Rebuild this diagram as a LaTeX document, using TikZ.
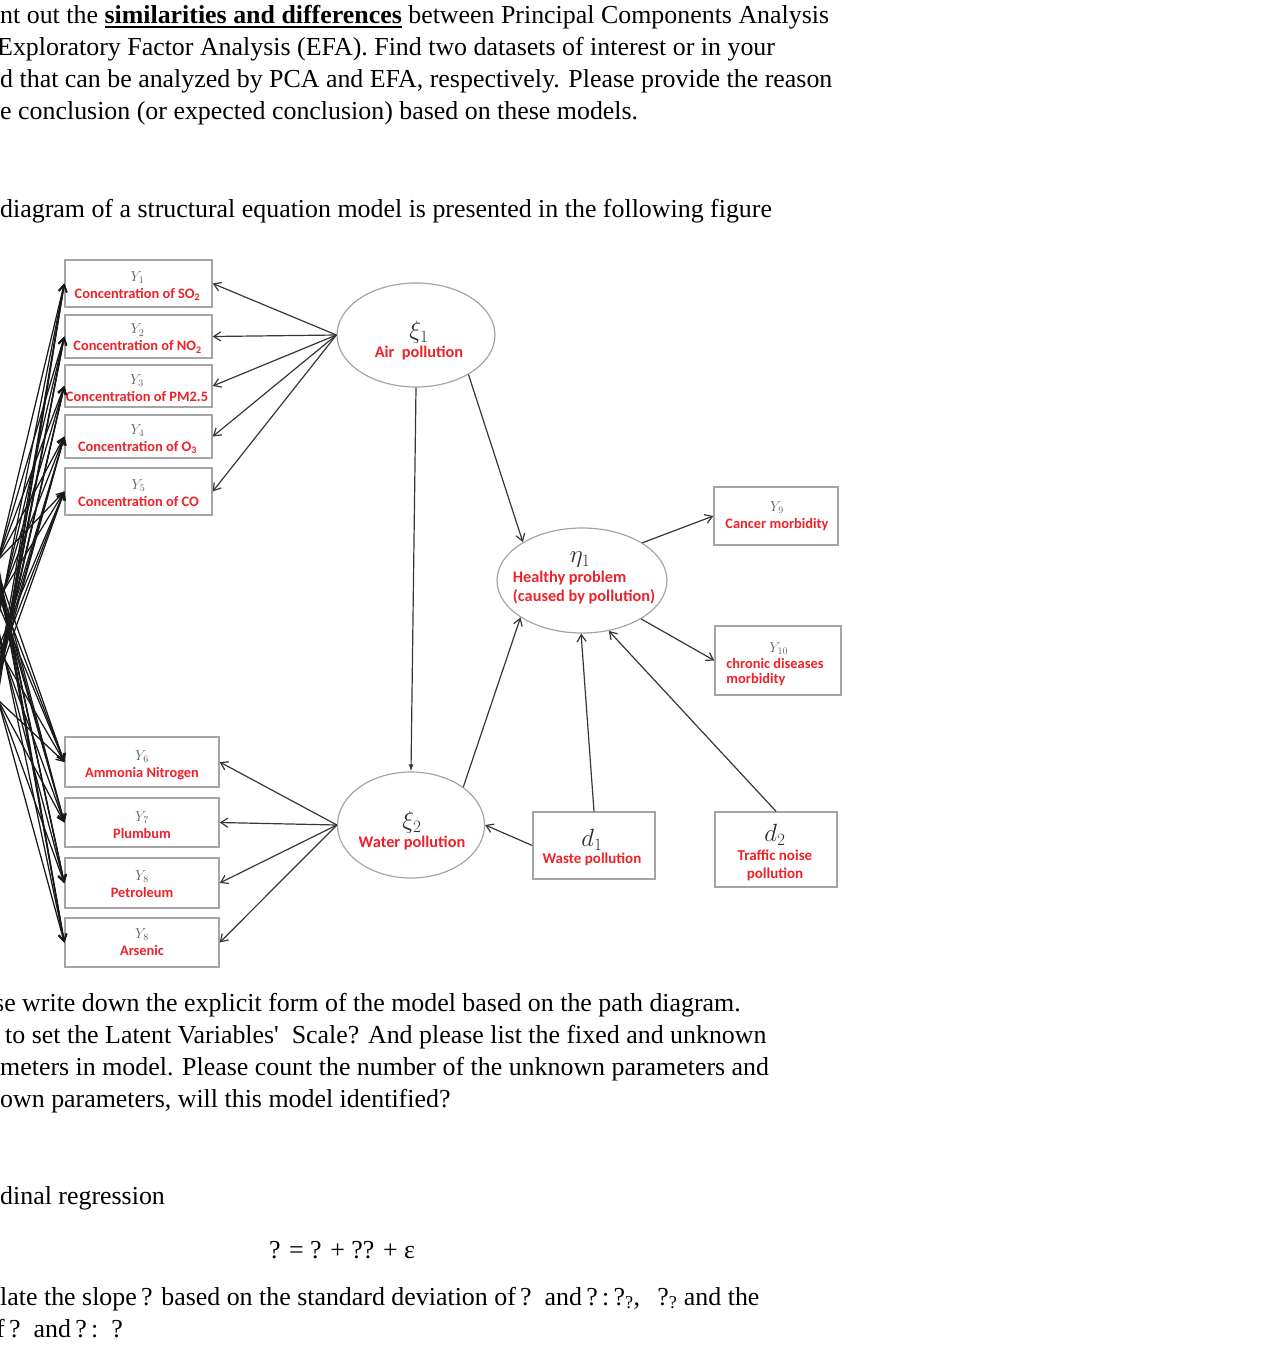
\documentclass[tikz,border=0pt]{standalone}
\usepackage{fontspec}
\setmainfont{Liberation Serif}
\newfontfamily\labfont{Carlito}
\usetikzlibrary{arrows.meta,shapes.geometric,calc}
\definecolor{labred}{RGB}{238,34,42}
\definecolor{edgec}{RGB}{55,55,55}
\definecolor{framec}{RGB}{165,165,165}
\definecolor{ygray}{RGB}{95,95,95}
\definecolor{greekc}{RGB}{45,45,45}
\newcommand\ulbold[1]{\setbox0\hbox{\textbf{#1}}\rlap{\raisebox{-4.5pt}{\rule{\wd0}{1.7pt}}}\box0\relax}
\newcommand\yl[1]{{\color{ygray}\fontsize{14.5}{14}\selectfont$#1$}}
\newcommand\gk[1]{{\color{greekc}\fontsize{23}{23}\selectfont$#1$}}
\begin{document}
\begin{tikzpicture}[x=1pt,y=-1pt,
  body/.style={font=\fontsize{25.9}{30}\selectfont,inner sep=0pt,anchor=base west},
  box/.style={draw=framec,line width=1.4pt,fill=white,inner sep=0pt,rectangle},
  lat/.style={draw=framec,line width=1.2pt,ellipse,inner sep=0pt},
  lab/.style={font=\labfont\bfseries\fontsize{14.4}{16}\selectfont,text=labred,align=center,inner sep=0pt},
  labbig/.style={font=\labfont\bfseries\fontsize{16.3}{19}\selectfont,text=labred,align=center,inner sep=0pt},
  arr/.style={draw=edgec,line width=1.2pt,-{Straight Barb[length=7pt,width=9pt]}},
  fan/.style={draw=black!90,line width=1.25pt,-{Straight Barb[length=7pt,width=8pt]}},
  fillarr/.style={draw=edgec,line width=1.2pt,-{Latex[length=7pt,width=5pt]}}
]
\useasboundingbox (0,0) rectangle (1280,1353);

% ---------- text above ----------
\node[body] (t1) at (0,23) {nt out the \ulbold{similarities and differences} between Principal Components Analysis};
\node[body] (t2) at (-3,55) {Exploratory Factor Analysis (EFA). Find two datasets of interest or in your};
\node[body] (t3) at (0,87) {d that can be analyzed by PCA and EFA, respectively. Please provide the reason};
\node[body] (t4) at (0,119) {e conclusion (or expected conclusion) based on these models.};
\node[body] (t5) at (0,217) {diagram of a structural equation model is presented in the following figure};

% ---------- boxes ----------
\node[box,minimum width=147,minimum height=47] (y1) at (138.5,283.5) {};
\node[box,minimum width=147,minimum height=43] (y2) at (138.5,336.5) {};
\node[box,minimum width=147,minimum height=42] (y3) at (138.5,386) {};
\node[box,minimum width=147,minimum height=43] (y4) at (138.5,436.5) {};
\node[box,minimum width=147,minimum height=47] (y5) at (138.5,491.5) {};
\node[box,minimum width=154,minimum height=50] (y6) at (142,762) {};
\node[box,minimum width=154,minimum height=49] (y7) at (142,822.5) {};
\node[box,minimum width=154,minimum height=50] (y8) at (142,883) {};
\node[box,minimum width=154,minimum height=49] (y9) at (142,942.5) {};
\node[box,minimum width=124,minimum height=58] (c9) at (776,516) {};
\node[box,minimum width=126,minimum height=69] (c10) at (778,660.5) {};
\node[box,minimum width=122,minimum height=67] (d1) at (594,845.5) {};
\node[box,minimum width=122,minimum height=75] (d2) at (776,849.5) {};

\node[lab] (y1t) at (137.5,286) {\yl{Y_1}\\[1pt]Concentration of SO\textsubscript{2}};
\node[lab] (y2t) at (137.5,338.5) {\yl{Y_2}\\[1pt]Concentration of NO\textsubscript{2}};
\node[lab] (y3t) at (137,388) {\yl{Y_3}\\[1pt]Concentration of PM2.5};
\node[lab] (y4t) at (137.5,439) {\yl{Y_4}\\[1pt]Concentration of O\textsubscript{3}};
\node[lab] (y5t) at (138.5,493) {\yl{Y_5}\\[1pt]Concentration of CO};
\node[lab] (y6t) at (142,765) {\yl{Y_6}\\[1pt]Ammonia Nitrogen};
\node[lab] (y7t) at (142,825) {\yl{Y_7}\\[1pt]Plumbum};
\node[lab] (y8t) at (142,884) {\yl{Y_8}\\[1pt]Petroleum};
\node[lab] (y9t) at (142,942) {\yl{Y_8}\\[1pt]Arsenic};
\node[lab] (c9t) at (777,516) {\yl{Y_9}\\[1pt]Cancer morbidity};
\node[lab,align=left] (c10t) at (775,664) {\hspace*{43pt}\yl{Y_{10}}\\[0pt]chronic diseases\\[-1pt]morbidity};
\node[labbig,font=\labfont\bfseries\fontsize{15}{17}\selectfont] (d1t) at (592,848) {\gk{d_1}\\[0pt]Waste pollution};
\node[labbig,font=\labfont\bfseries\fontsize{15}{18}\selectfont] (d2t) at (775,853) {\gk{d_2}\\[1pt]Traffic noise\\pollution};

% ---------- latent variables ----------
\node[lat,minimum width=158,minimum height=104] (xi1) at (416,335) {};
\node[lat,minimum width=147,minimum height=106] (xi2) at (411,825) {};
\node[lat,minimum width=170,minimum height=105] (eta1) at (582,580.5) {};
\node[labbig] (xi1t) at (419,341) {\gk{\xi_1}\\[0pt]Air\ \ pollution};
\node[labbig] (xi2t) at (412,831) {\gk{\xi_2}\\[0pt]Water pollution};
\node[labbig,align=left] (eta1t) at (584,578) {\hspace*{57pt}\gk{\eta_1}\\[1pt]Healthy problem\\(caused by pollution)};

% ---------- measurement arrows ----------
\foreach \b in {y1,y2,y3,y4,y5}{\draw[arr] (xi1.west) -- (\b.east);}
\foreach \b in {y6,y7,y8,y9}{\draw[arr] (xi2.west) -- (\b.east);}
\draw[arr] (eta1.32) -- (c9.west);
\draw[arr] (eta1.-33) -- (c10.west);

% ---------- structural arrows ----------
\draw[fillarr] (xi1.south) -- (xi2.north);
\draw[arr] (xi1.-37) -- (eta1.147);
\draw[arr] (xi2.36) -- (eta1.211);
\draw[arr] (d1.north) -- (eta1.-91);
\draw[arr] (d2.north) -- (eta1.-62);
\draw[arr] (d1.west) -- (xi2.east);

% ---------- error arrows from the left (cut off) ----------
\foreach \b in {y1,y2,y3,y4,y5}{
  \foreach \wx/\wy [count=\k] in {-2/560,4/590,10/620,5/645,-3/680}{
    \coordinate (s-\b-\k) at ($(\b.west)!2!(\wx,\wy)$);
    \draw[fan] (s-\b-\k) -- (\b.west);
  }
}
\foreach \b in {y6,y7,y8,y9}{
  \foreach \wx/\wy [count=\k] in {-3/570,4/605,10/632,5/660,-2/700}{
    \coordinate (s-\b-\k) at ($(\b.west)!2!(\wx,\wy)$);
    \draw[fan] (s-\b-\k) -- (\b.west);
  }
}

% ---------- text below ----------
\node[body] (t6) at (-6,1011) {se write down the explicit form of the model based on the path diagram.};
\node[body] (t7) at (5,1043) {to set the Latent Variables\textquotesingle\ \ Scale? And please list the fixed and unknown};
\node[body] (t8) at (0,1075) {meters in model. Please count the number of the unknown parameters and};
\node[body] (t9) at (0,1107) {own parameters, will this model identified?};
\node[body] (t10) at (0,1204) {dinal regression};
\node[body,anchor=base] (t11) at (342,1258) {? = ? + ?? + ε};
\node[body] (t12) at (0,1305) {late the slope\,? based on the standard deviation of\,?\ \ and\,?\,:\,?\textsubscript{?},\ \ \,?\textsubscript{?}\ and the};
\node[body] (t13) at (-4,1337) {f\,?\ \ and\,?\,:\ \ ?};
\end{tikzpicture}
\end{document}
